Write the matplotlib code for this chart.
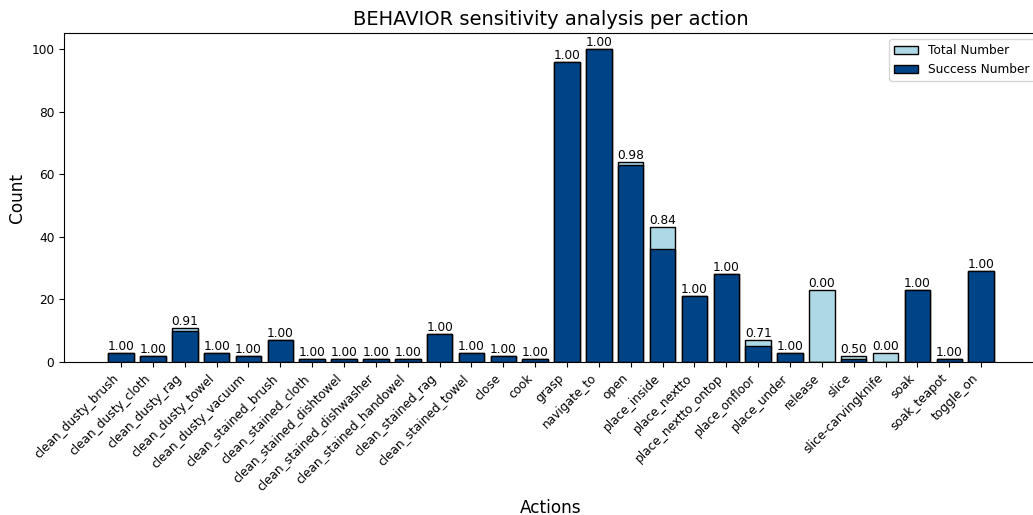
import numpy as np
import matplotlib
matplotlib.use('Agg')
import matplotlib.pyplot as plt

actions = ['clean_dusty_brush', 'clean_dusty_cloth', 'clean_dusty_rag', 'clean_dusty_towel',
           'clean_dusty_vacuum', 'clean_stained_brush', 'clean_stained_cloth',
           'clean_stained_dishtowel', 'clean_stained_dishwasher', 'clean_stained_handowel',
           'clean_stained_rag', 'clean_stained_towel', 'close', 'cook', 'grasp', 'navigate_to',
           'open', 'place_inside', 'place_nextto', 'place_nextto_ontop', 'place_onfloor',
           'place_under', 'release', 'slice', 'slice-carvingknife', 'soak', 'soak_teapot',
           'toggle_on']
total = [3, 2, 11, 3, 2, 7, 1, 1, 1, 1, 9, 3, 2, 1, 96, 100, 64, 43, 21, 28, 7, 3, 23, 2, 3, 23, 1, 29]
success = [3, 2, 10, 3, 2, 7, 1, 1, 1, 1, 9, 3, 2, 1, 96, 100, 63, 36, 21, 28, 5, 3, 0, 1, 0, 23, 1, 29]

ratio = [s / t for s, t in zip(success, total)]
x = np.arange(len(actions))

# original was drawn bigger and scaled down, so fonts are a bit smaller
fs = 8.7

fig = plt.figure(figsize=(10.33, 5.15), dpi=100)
ax = fig.add_axes([0.062, 0.297, 0.943, 0.638])

bars = ax.bar(x, total, color='lightblue', edgecolor='black', label='Total Number')
ax.bar(x, success, color='#004488', edgecolor='black', label='Success Number')
ax.bar_label(bars, labels=['%.2f' % r for r in ratio], fontsize=fs)

ax.set_xticks(x)
ax.set_xticklabels(actions, rotation=45, ha='right', fontsize=fs)
ax.tick_params(axis='y', labelsize=fs)
ax.set_xlabel('Actions', fontsize=12.2)
ax.set_ylabel('Count', fontsize=12.2)
ax.set_title('BEHAVIOR sensitivity analysis per action', fontsize=14)
ax.legend(loc='upper left', bbox_to_anchor=(0.861, 0.924), bbox_transform=fig.transFigure,
          borderaxespad=0, fontsize=fs)

fig.savefig('out.png', dpi=100)
